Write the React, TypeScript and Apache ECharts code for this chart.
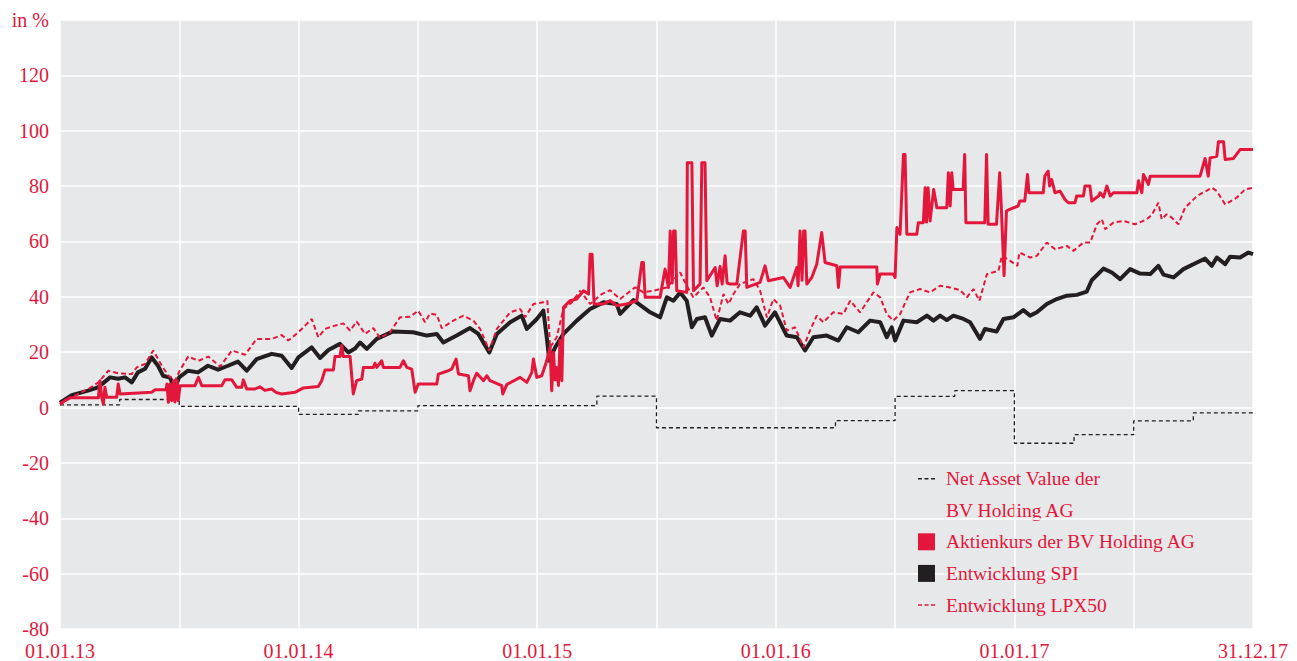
import React, { useEffect, useRef } from "react";
import * as echarts from "echarts";

// x values are months since 01.01.13 (0 .. 60)
const xTickLabels: Record<number, string> = {
  0: "01.01.13",
  12: "01.01.14",
  24: "01.01.15",
  36: "01.01.16",
  48: "01.01.17",
  60: "31.12.17",
};

const seriesNames = [
  "Net Asset Value der BV Holding AG",
  "Aktienkurs der BV Holding AG",
  "Entwicklung SPI",
  "Entwicklung LPX50",
];

const navData: [number, number][] = [
  [0, 1], [3, 2.9], [6, 0.4], [12, -2.5], [15, -1.2], [18, 0.7], [27, 4.1], [30, -7.3],
  [39, -4.7], [42, 4], [45, 6.1], [48, -12.9], [51, -9.8], [54, -4.8], [57, -1.9], [60, -1.9],
];

const spiData: [number, number][] = [
  [0, 1.8], [0.59, 4.5], [1.41, 6.1], [1.91, 7.3], [2.52, 10.9], [2.92, 10.4], [3.27, 10.9], [3.61, 9.1], [3.92, 12.7], [4.28, 14],
  [4.61, 18.1], [4.93, 15.1], [5.18, 11.5], [5.53, 10.8], [5.78, 6.8], [5.99, 10.9], [6.44, 13.3], [6.94, 12.7], [7.44, 15.1], [7.95, 13.7],
  [8.45, 15.1], [8.95, 16.6], [9.39, 13.3], [9.89, 17.5], [10.65, 19.4], [11.15, 18.7], [11.65, 14.3], [11.99, 18.1], [12.66, 21.7], [13.08, 17.9],
  [13.5, 20.8], [14.08, 23], [14.5, 19.9], [14.84, 21.3], [15.09, 23.5], [15.43, 21.2], [15.93, 24.8], [16.75, 27.5], [17.76, 27.2], [18.45, 26],
  [18.95, 26.6], [19.28, 23.5], [19.95, 26], [20.62, 28.7], [21.04, 26.6], [21.59, 19.9], [21.97, 26.6], [22.64, 30.8], [23.22, 33.2], [23.48, 28.4],
  [23.98, 32], [24.31, 35], [24.48, 25.4], [24.61, 16.9], [24.9, 21.7], [25.32, 26.6], [25.99, 31.4], [26.66, 35.6], [27.33, 38], [28, 37.4],
  [28.17, 33.8], [28.84, 38.8], [29.34, 36.2], [29.68, 34.4], [30.18, 32.6], [30.52, 39.8], [30.85, 38.6], [31.19, 41.6], [31.52, 38.6], [31.78, 29],
  [32.03, 32], [32.44, 32.6], [32.78, 26], [33.2, 32], [33.7, 31.4], [34.2, 34.4], [34.71, 33.2], [35.04, 36.2], [35.46, 29.6], [35.96, 34.4],
  [36.55, 26], [37.06, 25.4], [37.47, 20.6], [37.89, 25.4], [38.56, 26], [39.15, 24.2], [39.57, 29], [40.15, 27.2], [40.74, 31.4], [41.25, 30.8],
  [41.58, 25.4], [41.83, 29], [42, 24.2], [42.42, 31.4], [43.09, 30.8], [43.6, 33.2], [43.93, 31.4], [44.26, 33.2], [44.6, 31.6], [44.93, 33.2],
  [45.44, 32], [45.77, 30.8], [46.27, 24.8], [46.52, 28.4], [47.11, 27.5], [47.45, 32], [47.95, 32.6], [48.45, 35.2], [48.79, 33.2], [49.13, 34.4],
  [49.63, 37.4], [50.13, 39.2], [50.64, 40.4], [51.14, 40.7], [51.64, 41.9], [51.89, 46], [52.48, 50.2], [52.9, 48.8], [53.32, 46.4], [53.82, 50],
  [54.32, 48.4], [54.83, 48.2], [55.24, 51.2], [55.5, 48], [56, 47], [56.5, 50], [57.18, 52.4], [57.59, 53.8], [57.93, 51.2], [58.18, 54.2],
  [58.6, 51.8], [58.85, 54.5], [59.35, 54.2], [59.77, 56], [60, 55.4],
];

const lpxData: [number, number][] = [
  [0, 1.6], [0.75, 4.3], [1.42, 6.7], [1.93, 9.1], [2.43, 13.3], [2.93, 12.4], [3.61, 12.1], [3.86, 14.5], [4.28, 15.8], [4.69, 20.6],
  [5.12, 15.1], [5.45, 11.5], [5.78, 9.7], [6.04, 13.6], [6.45, 18.4], [6.96, 16.9], [7.46, 18.4], [8.05, 14.8], [8.64, 20.6], [9.31, 19.1],
  [9.89, 24.8], [10.65, 24.8], [11.15, 26.2], [11.48, 24.2], [11.99, 27.2], [12.66, 32], [12.99, 25.4], [13.33, 28.4], [13.83, 29.6], [14.25, 30.4],
  [14.59, 27.8], [14.92, 31.1], [15.34, 26.6], [15.76, 28.7], [16.1, 25.1], [16.6, 27.2], [17.1, 32.6], [17.61, 32.8], [18.02, 35], [18.36, 30.8],
  [18.61, 34], [18.95, 33.5], [19.2, 28.7], [19.78, 31.4], [20.29, 33.2], [20.79, 31.4], [21.13, 28.4], [21.59, 20.6], [21.97, 28.4], [22.64, 34.4],
  [23.14, 35.6], [23.39, 32.6], [23.81, 37.4], [24.31, 38], [24.51, 38.6], [24.65, 21.7], [24.98, 25.4], [25.32, 35.6], [25.74, 38], [26.16, 42.2],
  [26.66, 37.4], [27.25, 41], [27.67, 42.4], [28.17, 39.2], [28.92, 43.4], [29.34, 41.6], [29.84, 42.2], [30.52, 43.4], [31.19, 48.8], [31.52, 44],
  [31.85, 39.8], [32.36, 43.4], [32.69, 39.8], [33.03, 31.4], [33.37, 41], [33.62, 37.4], [33.87, 41], [34.2, 44.6], [34.87, 46.4], [35.21, 42.2],
  [35.55, 32.6], [35.88, 39.2], [36.22, 36.8], [36.55, 27.8], [36.97, 29], [37.39, 21.7], [37.72, 27.8], [38.06, 33.2], [38.39, 30.8], [38.89, 34.4],
  [39.4, 33.8], [39.74, 38.6], [40.24, 34.4], [40.91, 41.6], [41.25, 39.8], [41.58, 33.8], [41.91, 31.4], [42.25, 33.8], [42.75, 41.6], [43.26, 42.8],
  [43.76, 41.6], [44.26, 44], [44.77, 43.4], [45.27, 42.4], [45.61, 39.8], [45.94, 42.8], [46.24, 38.6], [46.62, 48.2], [47.2, 49.4], [47.37, 54.8],
  [47.79, 53], [48.15, 51.2], [48.25, 56], [48.79, 54.2], [49.13, 54.8], [49.63, 59.6], [50.05, 57.2], [50.64, 58.4], [50.97, 56.6], [51.47, 59.6],
  [51.81, 59.6], [52.15, 66.2], [52.4, 68], [52.56, 64.4], [52.98, 66.8], [53.49, 67.4], [54.07, 66.2], [54.66, 68], [54.91, 69.6], [55.24, 74],
  [55.41, 68], [55.66, 69.8], [55.91, 68.6], [56.25, 66.2], [56.58, 72.2], [57.18, 76.4], [57.93, 79.4], [58.18, 78.2], [58.6, 73.4], [59.18, 75.8],
  [59.6, 78.8], [60, 79.4],
];

const aktieData: [number, number][] = [
  [0, 1.1], [0.25, 2.5], [0.5, 3.5], [1.93, 3.5], [2.01, 9.7], [2.1, 3.5], [2.18, 1.3], [2.26, 7.3], [2.35, 3.7], [2.85, 3.7],
  [2.93, 8.5], [3.02, 4.9], [4.61, 5.5], [4.78, 6.4], [5.33, 6.4], [5.38, 8.5], [5.45, 1.9], [5.53, 8.5], [5.62, 2.5], [5.7, 9.7],
  [5.78, 2], [5.89, 9.7], [5.95, 2.5], [6.04, 7.9], [6.79, 7.9], [6.96, 10.9], [7.13, 7.9], [8.13, 7.9], [8.3, 10], [8.64, 10],
  [8.89, 7.3], [9.14, 7.3], [9.22, 10], [9.39, 6.7], [9.81, 6.7], [10.05, 7.5], [10.3, 6.2], [10.65, 6.7], [10.86, 5.5], [11.15, 4.9],
  [11.82, 5.5], [12.24, 7.1], [12.99, 7.6], [13.16, 9.7], [13.33, 13.6], [13.75, 13.6], [13.83, 18.4], [14.08, 18.4], [14.17, 22.4], [14.25, 18.4],
  [14.59, 18.4], [14.75, 4.9], [14.92, 9.7], [15.18, 10.3], [15.26, 14.5], [15.76, 14.5], [15.84, 16], [15.93, 14.5], [16.18, 16.9], [16.26, 14.5],
  [17.1, 14.5], [17.27, 16.9], [17.44, 14.5], [17.69, 13.9], [17.86, 5.5], [18.02, 8.5], [18.95, 8.5], [19.03, 12.1], [19.45, 13.1], [19.7, 13.9],
  [19.92, 17.5], [20.04, 12.1], [20.54, 11.5], [20.62, 6.1], [20.79, 9.7], [20.96, 12.4], [21.3, 9.7], [21.47, 11.5], [21.63, 9.7], [22.22, 7.9],
  [22.27, 4.9], [22.47, 8.3], [23.14, 10.9], [23.48, 9.1], [23.73, 12.7], [23.81, 17.5], [23.98, 10.9], [24.23, 11.5], [24.48, 16.9], [24.65, 21.7],
  [24.73, 6.1], [24.82, 20], [24.9, 10], [24.98, 14.5], [25.07, 8], [25.15, 24.2], [25.24, 9.7], [25.32, 36.2], [25.66, 38.6], [25.99, 39.2],
  [26.33, 42.2], [26.58, 41], [26.66, 55.4], [26.76, 55.4], [26.86, 37.4], [27.33, 37.4], [27.67, 38.6], [28, 36.8], [28.5, 37.4], [29.01, 38.6],
  [29.26, 52.4], [29.34, 52.4], [29.43, 39.8], [30.18, 39.8], [30.43, 50], [30.6, 43.4], [30.69, 63.8], [30.79, 45], [30.86, 63.8], [30.94, 63.8],
  [31.02, 42.2], [31.52, 41.6], [31.55, 88.4], [31.78, 88.4], [31.86, 42.2], [32.19, 44.6], [32.28, 88.4], [32.44, 88.4], [32.53, 45.8], [32.95, 50.6],
  [33.05, 44], [33.2, 51], [33.3, 44.6], [33.45, 54.8], [33.55, 45], [33.7, 44.6], [34.04, 44.6], [34.37, 63.8], [34.46, 63.8], [34.54, 43.4],
  [35.21, 45.2], [35.46, 51.2], [35.63, 45.8], [36.38, 47], [36.72, 43.4], [37.06, 50.6], [37.12, 44], [37.22, 63.8], [37.32, 46], [37.4, 63.8],
  [37.47, 63.8], [37.56, 44.6], [37.81, 47], [38.06, 51.8], [38.31, 63.2], [38.48, 52.4], [39.07, 51.2], [39.15, 43.4], [39.24, 50.8], [41.08, 50.8],
  [41.11, 44.6], [41.25, 48.2], [41.91, 48.2], [42, 47], [42.09, 65], [42.25, 62.6], [42.42, 91.4], [42.5, 91.4], [42.59, 62.6], [43.09, 62.6],
  [43.17, 66.8], [43.42, 66.8], [43.51, 79.4], [43.58, 67], [43.66, 79.4], [43.76, 67.4], [43.94, 78.8], [44.1, 72.2], [44.6, 72.2], [44.68, 84.8],
  [44.77, 72.8], [44.85, 84.8], [44.92, 78.8], [45.42, 78.8], [45.5, 91.4], [45.56, 66.8], [46.51, 66.8], [46.6, 91.4], [46.68, 66.2], [47.1, 66.2],
  [47.26, 84.8], [47.35, 71], [47.48, 47.6], [47.6, 71], [47.76, 71.6], [48.19, 72.8], [48.27, 74.6], [48.52, 74.6], [48.66, 84.2], [48.73, 77.6],
  [49.45, 77.6], [49.53, 83.6], [49.7, 85.4], [49.77, 80], [49.87, 82.4], [50.04, 77.6], [50.29, 78.2], [50.54, 75.2], [50.71, 74], [51.05, 74],
  [51.13, 76.4], [51.47, 76.4], [51.55, 80], [51.8, 80], [51.89, 74.6], [52.23, 76.4], [52.31, 77.6], [52.48, 76], [52.65, 80], [52.82, 76.4],
  [52.98, 77.6], [54.16, 77.6], [54.24, 81.9], [54.41, 77.6], [54.49, 84.2], [54.74, 80.6], [54.83, 83.6], [57.34, 83.6], [57.59, 90], [57.75, 83.6],
  [57.84, 90.2], [58.18, 90.8], [58.26, 96], [58.52, 96], [58.6, 89.6], [59.02, 90], [59.35, 93.2], [60, 93.2],
];

const RED = "#e3173b";
const BLACK = "#231f20";
const FONT = "'Liberation Serif', 'DejaVu Serif', serif";
const DASH_ICON = "path://M0,0h4v1.4h-4z M6.5,0h4v1.4h-4z M13,0h4v1.4h-4z";

export default function App() {
  const ref = useRef<HTMLDivElement>(null);

  useEffect(() => {
    document.body.style.margin = "0";
    if (!ref.current) return;
    const chart = echarts.init(ref.current, undefined, { renderer: "svg" });
    const legendText = {
      color: RED,
      fontSize: 19.5,
      fontFamily: FONT,
      lineHeight: 31.6,
      padding: [0, 0, 0, 6],
    };
    chart.setOption({
      animation: false,
      backgroundColor: "#ffffff",
      grid: {
        left: 60,
        right: 44,
        top: 20,
        bottom: 31,
        show: true,
        backgroundColor: "#e7e8ea",
        borderWidth: 0,
      },
      xAxis: {
        type: "value",
        min: 0,
        max: 60,
        interval: 6,
        axisLine: { show: false },
        axisTick: { show: false },
        splitLine: { show: true, lineStyle: { color: "#ffffff", width: 1.5 } },
        axisLabel: {
          color: RED,
          fontFamily: FONT,
          fontSize: 20,
          margin: 12,
          showMinLabel: true,
          showMaxLabel: true,
          formatter: (v: number) => xTickLabels[v] ?? "",
        },
      },
      yAxis: {
        type: "value",
        min: -80,
        max: 140,
        interval: 20,
        axisLine: { show: false },
        axisTick: { show: false },
        splitLine: { show: true, lineStyle: { color: "#ffffff", width: 1.5 } },
        axisLabel: {
          color: RED,
          fontFamily: FONT,
          fontSize: 20,
          margin: 11,
          formatter: (v: number) => (v === 140 ? "in %" : String(v)),
        },
      },
      legend: [
        {
          orient: "vertical",
          left: 918,
          top: 463,
          padding: 0,
          itemGap: 0,
          itemWidth: 17,
          itemHeight: 17,
          selectedMode: false,
          itemStyle: { borderWidth: 0 },
          textStyle: legendText,
          formatter: () => "Net Asset Value der",
          data: [{ name: seriesNames[0], icon: DASH_ICON }],
        },
        {
          orient: "vertical",
          left: 918,
          top: 526,
          padding: 0,
          itemGap: 0,
          itemWidth: 17,
          itemHeight: 17,
          selectedMode: false,
          itemStyle: { borderWidth: 0 },
          textStyle: legendText,
          data: [
            { name: seriesNames[1], icon: "rect" },
            { name: seriesNames[2], icon: "rect" },
            { name: seriesNames[3], icon: DASH_ICON },
          ],
        },
      ],
      graphic: [
        {
          type: "text",
          x: 946,
          y: 510,
          style: {
            text: "BV Holding AG",
            fill: RED,
            fontSize: 19.5,
            fontFamily: FONT,
            verticalAlign: "middle",
          },
        },
      ],
      series: [
        {
          name: seriesNames[0],
          type: "line",
          step: "end",
          data: navData,
          showSymbol: false,
          symbol: "none",
          itemStyle: { color: BLACK },
          lineStyle: { color: BLACK, width: 1.3, type: [4, 3] },
          z: 2,
        },
        {
          name: seriesNames[2],
          type: "line",
          data: spiData,
          showSymbol: false,
          symbol: "none",
          itemStyle: { color: BLACK },
          lineStyle: { color: BLACK, width: 4, join: "round" },
          z: 3,
        },
        {
          name: seriesNames[3],
          type: "line",
          data: lpxData,
          showSymbol: false,
          symbol: "none",
          itemStyle: { color: RED },
          lineStyle: { color: RED, width: 2, type: [5, 3] },
          z: 4,
        },
        {
          name: seriesNames[1],
          type: "line",
          data: aktieData,
          showSymbol: false,
          symbol: "none",
          itemStyle: { color: RED },
          lineStyle: { color: RED, width: 3, join: "round" },
          z: 5,
        },
      ],
    });
    return () => chart.dispose();
  }, []);

  return <div ref={ref} style={{ width: 1297, height: 661 }} />;
}
